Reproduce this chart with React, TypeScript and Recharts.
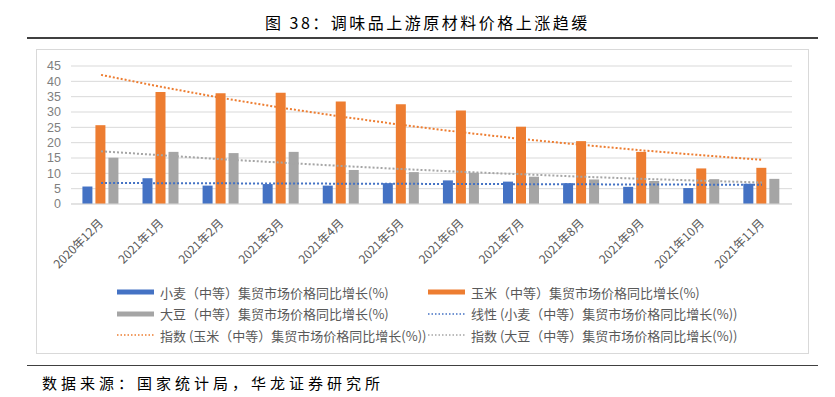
import React from 'react';
import { ComposedChart, Bar, Line, XAxis, YAxis, CartesianGrid } from 'recharts';

const categories = ['2020年12月', '2021年1月', '2021年2月', '2021年3月', '2021年4月', '2021年5月', '2021年6月', '2021年7月', '2021年8月', '2021年9月', '2021年10月', '2021年11月'];
const wheat = [5.7, 8.4, 6.0, 6.5, 6.0, 6.8, 7.7, 7.3, 6.8, 5.6, 5.2, 6.6];
const corn = [25.7, 36.5, 36.1, 36.3, 33.4, 32.5, 30.5, 25.2, 20.5, 17.0, 11.6, 11.8];
const soy = [15.1, 17.0, 16.6, 17.0, 11.1, 10.4, 10.2, 8.9, 8.0, 7.5, 8.1, 8.2];
const wheatTrend = [6.85, 6.8, 6.74, 6.69, 6.63, 6.58, 6.53, 6.47, 6.42, 6.36, 6.31, 6.25];
const cornTrend = [42.1, 38.2, 34.6, 31.4, 28.5, 25.8, 23.4, 21.2, 19.3, 17.5, 15.9, 14.4];
const soyTrend = [17.2, 15.9, 14.6, 13.5, 12.4, 11.4, 10.5, 9.7, 8.9, 8.2, 7.6, 7.0];
const yTicks = [0, 5, 10, 15, 20, 25, 30, 35, 40, 45];

const legendItems = [
  { label: '小麦（中等）集贸市场价格同比增长(%)', color: '#4472C4', dotted: false },
  { label: '玉米（中等）集贸市场价格同比增长(%)', color: '#ED7D31', dotted: false },
  { label: '大豆（中等）集贸市场价格同比增长(%)', color: '#A5A5A5', dotted: false },
  { label: '线性 (小麦（中等）集贸市场价格同比增长(%))', color: '#4472C4', dotted: true },
  { label: '指数 (玉米（中等）集贸市场价格同比增长(%))', color: '#ED7D31', dotted: true },
  { label: '指数 (大豆（中等）集贸市场价格同比增长(%))', color: '#A5A5A5', dotted: true },
];

const data = categories.map((c, i) => ({
  name: c,
  wheat: wheat[i],
  corn: corn[i],
  soy: soy[i],
  wheatTrend: wheatTrend[i],
  cornTrend: cornTrend[i],
  soyTrend: soyTrend[i],
}));

const FONT = '"Noto Sans CJK SC", "Noto Sans", sans-serif';

const XTick = (props: any) => {
  const { x, y, payload } = props;
  const ex = x + 3;
  const ey = y + 20;
  return (
    <text x={ex} y={ey} transform={`rotate(-45 ${ex} ${ey})`} textAnchor="end" fontSize={12} fill="#595959" fontFamily={FONT}>
      {payload.value}
    </text>
  );
};

export default function App() {
  return (
    <div style={{ position: 'absolute', left: 0, top: 0, width: 835, height: 397, background: '#fff', fontFamily: FONT }}>
      <div style={{ position: 'absolute', left: 265, top: 11, fontSize: 16, letterSpacing: 2.5, color: '#000', whiteSpace: 'nowrap', lineHeight: '22px' }}>
        图 38：调味品上游原材料价格上涨趋缓
      </div>
      <div style={{ position: 'absolute', left: 27, top: 37, width: 791, height: 1.5, background: '#404040' }} />
      <div style={{ position: 'absolute', left: 36, top: 49, width: 773, height: 305, border: '1px solid #D9D9D9', boxSizing: 'border-box' }} />
      <div style={{ position: 'absolute', left: 0, top: 0 }}>
        <ComposedChart width={835} height={397} data={data} margin={{ top: 66, right: 43, bottom: 133, left: 31 }} barCategoryGap="19%" barGap={3}>
          <CartesianGrid vertical={false} stroke="#D9D9D9" strokeWidth={1} />
          <XAxis dataKey="name" interval={0} tick={<XTick />} tickLine={false} axisLine={{ stroke: '#D9D9D9' }} height={60} tickSize={0} tickMargin={0} />
          <YAxis domain={[0, 45]} ticks={yTicks} width={40} tickLine={false} axisLine={false} tickSize={0} tickMargin={10} tick={{ fontSize: 12.5, fill: '#7F7F7F', fontFamily: '"Liberation Sans", Arial, sans-serif' }} interval={0} />
          <Bar dataKey="wheat" fill="#4472C4" isAnimationActive={false} />
          <Bar dataKey="corn" fill="#ED7D31" isAnimationActive={false} />
          <Bar dataKey="soy" fill="#A5A5A5" isAnimationActive={false} />
          <Line dataKey="wheatTrend" stroke="#4472C4" strokeWidth={2} strokeDasharray="2 2" dot={false} activeDot={false} isAnimationActive={false} />
          <Line dataKey="cornTrend" stroke="#ED7D31" strokeWidth={2} strokeDasharray="2 2" dot={false} activeDot={false} isAnimationActive={false} />
          <Line dataKey="soyTrend" stroke="#A5A5A5" strokeWidth={2} strokeDasharray="2 2" dot={false} activeDot={false} isAnimationActive={false} />
        </ComposedChart>
      </div>
      {legendItems.map((it, i) => {
        const col = i % 2;
        const row = Math.floor(i / 2);
        const left = col === 0 ? 117 : 428;
        const top = 282 + row * 21.5;
        return (
          <div key={i} style={{ position: 'absolute', left, top, height: 20, display: 'flex', alignItems: 'center', whiteSpace: 'nowrap' }}>
            <svg width={37} height={20} style={{ marginRight: 6 }}>
              {it.dotted ? (
                <line x1={0} y1={10} x2={37} y2={10} stroke={it.color} strokeWidth={1.5} strokeDasharray="1.5 2" />
              ) : (
                <rect x={0} y={7.5} width={37} height={5} fill={it.color} />
              )}
            </svg>
            <span style={{ fontSize: 13, color: '#595959' }}>{it.label}</span>
          </div>
        );
      })}
      <div style={{ position: 'absolute', left: 27, top: 364.5, width: 791, height: 1.5, background: '#404040' }} />
      <div style={{ position: 'absolute', left: 42, top: 372, fontSize: 15, letterSpacing: 4, color: '#000', whiteSpace: 'nowrap', lineHeight: '22px' }}>
        数据来源：国家统计局，华龙证券研究所
      </div>
    </div>
  );
}
